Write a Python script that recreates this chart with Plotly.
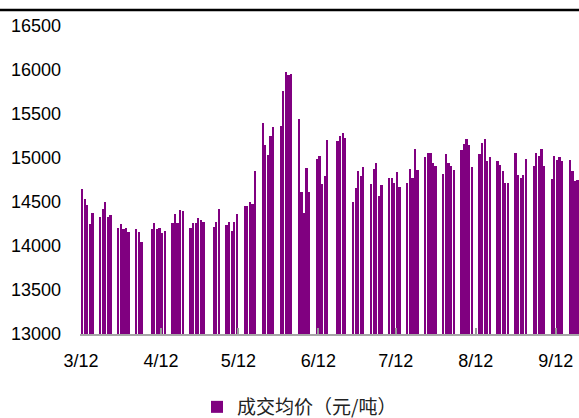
import plotly.graph_objects as go

# Trading dates (2018) and average transaction price (yuan/ton)
dates = [
    "2018-03-12", "2018-03-13", "2018-03-14", "2018-03-15", "2018-03-16",
    "2018-03-19", "2018-03-20", "2018-03-21", "2018-03-22", "2018-03-23",
    "2018-03-26", "2018-03-27", "2018-03-28", "2018-03-29", "2018-03-30",
    "2018-04-02", "2018-04-03", "2018-04-04",
    "2018-04-08", "2018-04-09", "2018-04-10", "2018-04-11", "2018-04-12", "2018-04-13",
    "2018-04-16", "2018-04-17", "2018-04-18", "2018-04-19", "2018-04-20",
    "2018-04-23", "2018-04-24", "2018-04-25", "2018-04-26", "2018-04-27", "2018-04-28",
    "2018-05-02", "2018-05-03", "2018-05-04",
    "2018-05-07", "2018-05-08", "2018-05-09", "2018-05-10", "2018-05-11",
    "2018-05-14", "2018-05-15", "2018-05-16", "2018-05-17", "2018-05-18",
    "2018-05-21", "2018-05-22", "2018-05-23", "2018-05-24", "2018-05-25",
    "2018-05-28", "2018-05-29", "2018-05-30", "2018-05-31", "2018-06-01",
    "2018-06-04", "2018-06-05", "2018-06-06", "2018-06-07", "2018-06-08",
    "2018-06-11", "2018-06-12", "2018-06-13", "2018-06-14", "2018-06-15",
    "2018-06-19", "2018-06-20", "2018-06-21", "2018-06-22",
    "2018-06-25", "2018-06-26", "2018-06-27", "2018-06-28", "2018-06-29",
    "2018-07-02", "2018-07-03", "2018-07-04", "2018-07-05", "2018-07-06",
    "2018-07-09", "2018-07-10", "2018-07-11", "2018-07-12", "2018-07-13",
    "2018-07-16", "2018-07-17", "2018-07-18", "2018-07-19", "2018-07-20",
    "2018-07-23", "2018-07-24", "2018-07-25", "2018-07-26", "2018-07-27",
    "2018-07-30", "2018-07-31", "2018-08-01", "2018-08-02", "2018-08-03",
    "2018-08-06", "2018-08-07", "2018-08-08", "2018-08-09", "2018-08-10",
    "2018-08-13", "2018-08-14", "2018-08-15", "2018-08-16", "2018-08-17",
    "2018-08-20", "2018-08-21", "2018-08-22", "2018-08-23", "2018-08-24",
    "2018-08-27", "2018-08-28", "2018-08-29", "2018-08-30", "2018-08-31",
    "2018-09-03", "2018-09-04", "2018-09-05", "2018-09-06", "2018-09-07",
    "2018-09-10", "2018-09-11", "2018-09-12", "2018-09-13", "2018-09-14",
    "2018-09-17", "2018-09-18", "2018-09-19", "2018-09-20",
]

prices = [
    14644, 14531, 14466, 14250, 14379,
    14333, 14420, 14497, 14333, 14349,
    14205, 14246, 14189, 14205, 14159,
    14189, 14159, 14042,
    14189, 14261, 14189, 14205, 14144, 14174,
    14261, 14364, 14261, 14409, 14394,
    14205, 14261, 14261, 14318, 14292, 14277,
    14220, 14277, 14424,
    14235, 14277, 14174, 14277, 14364,
    14451, 14451, 14497, 14481, 14852,
    15394, 15148, 15034, 15250, 15349,
    15364, 15761, 15981, 15943, 15955,
    15440, 14617, 14379, 14883, 14617,
    14985, 15026, 14705, 14792, 15205,
    15190, 15250, 15280, 15230,
    14497, 14659, 14849, 14792, 14894,
    14705, 14879, 14940, 14568, 14690,
    14776, 14776, 14720, 14837, 14674,
    14720, 14879, 14776, 15099, 14864,
    15011, 15057, 15057, 14940, 14909,
    14822, 15042, 14940, 14909, 14864,
    15087, 15159, 15216, 15144, 14894,
    15042, 15174, 15216, 14970, 15011,
    14970, 14924, 14852, 14712, 14720,
    15057, 14807, 14776, 14807, 14985,
    14909, 15057, 15026, 15099, 14909,
    14761, 15026, 14981, 15011, 14966,
    14981, 14852, 14735, 14750,
]

series_name = "成交均价（元/吨）"

x_tick_vals = ["2018-03-12", "2018-04-12", "2018-05-12", "2018-06-12",
               "2018-07-12", "2018-08-12", "2018-09-12"]
x_tick_text = ["3/12", "4/12", "5/12", "6/12", "7/12", "8/12", "9/12"]
y_tick_vals = [13000, 13500, 14000, 14500, 15000, 15500, 16000, 16500]
y_tick_text = ["13000", "13500", "14000", "14500", "15000", "15500", "16000", "16500"]

DAY_MS = 86400000
purple = "#800080"

fig = go.Figure()
fig.add_trace(go.Bar(
    x=dates,
    y=prices,
    name=series_name,
    marker=dict(color=purple, line=dict(width=0)),
    width=[DAY_MS * 0.87] * len(dates),
    offset=0,
    showlegend=True,
))

fig.update_layout(
    width=579,
    height=418,
    margin=dict(l=80, r=0, t=26, b=84),
    paper_bgcolor="white",
    plot_bgcolor="white",
    font=dict(family="Liberation Sans, Arial, sans-serif", size=18, color="#000000"),
    showlegend=True,
    legend=dict(
        orientation="h",
        xref="container",
        yref="container",
        x=197 / 579,
        xanchor="left",
        y=1 - 407 / 418,
        yanchor="middle",
        font=dict(family="Noto Sans CJK SC, sans-serif", size=19, color="#222222"),
        bgcolor="rgba(0,0,0,0)",
    ),
    bargap=0,
    xaxis=dict(
        type="date",
        range=["2018-03-11 15:00", "2018-09-21 00:00"],
        tickmode="array",
        tickvals=x_tick_vals,
        ticktext=x_tick_text,
        ticks="inside",
        ticklen=6,
        tickwidth=1.5,
        tickcolor="#999999",
        showline=True,
        linecolor="#a6a6a6",
        linewidth=2,
        showgrid=False,
        zeroline=False,
        ticklabelstandoff=9,
        tickfont=dict(size=18, color="#000000"),
    ),
    yaxis=dict(
        range=[13000, 16500],
        tickmode="array",
        tickvals=y_tick_vals,
        ticktext=y_tick_text,
        ticks="",
        showline=False,
        showgrid=False,
        zeroline=False,
        ticklabelstandoff=18,
        tickfont=dict(size=18, color="#000000"),
    ),
    shapes=[dict(
        type="line",
        xref="paper", yref="paper",
        x0=-0.2, x1=1.1,
        y0=(334 - 10) / 308, y1=(334 - 10) / 308,
        line=dict(color="#000000", width=2.5),
    )],
)

fig.write_html(
    "out.html",
    config={"displayModeBar": False},
    post_script="document.body.style.margin='0';",
)
